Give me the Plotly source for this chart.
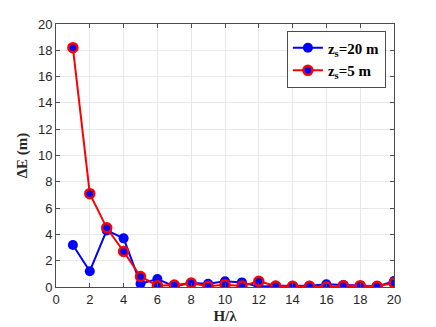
import plotly.graph_objects as go

h_lambda = list(range(1, 21))
de_zs20 = [3.2, 1.2, 4.3, 3.7, 0.25, 0.6, 0.05, 0.3, 0.25, 0.43,
           0.35, 0.02, 0.1, 0.1, 0.1, 0.2, 0.15, 0.1, 0.05, 0.45]
de_zs5 = [18.2, 7.1, 4.5, 2.7, 0.8, 0.1, 0.15, 0.3, 0.05, 0.18,
          0.08, 0.43, 0.08, 0.05, 0.05, 0.0, 0.1, 0.1, 0.05, 0.3]

serif = "Liberation Serif, Times New Roman, serif"
sans = "Liberation Sans, Arial, sans-serif"

fig = go.Figure()
fig.add_trace(go.Scatter(x=h_lambda, y=de_zs20, mode='lines+markers',
                         name='<b>z<sub>s</sub>=20 m</b>',
                         line={'width': 2, 'color': 'blue'},
                         marker={'size': 10, 'color': 'blue'}))
fig.add_trace(go.Scatter(x=h_lambda, y=de_zs5, mode='lines+markers',
                         name='<b>z<sub>s</sub>=5 m</b>',
                         line={'width': 2, 'color': 'red'},
                         marker={'size': 9, 'color': 'blue',
                                 'line': {'width': 2.5, 'color': 'red'}}))

axis_style = dict(showline=True, linecolor='#4d4d4d', linewidth=1, mirror='ticks',
                  ticks='inside', ticklen=4, tickcolor='#4d4d4d',
                  showgrid=True, gridcolor='#e8e8e8', zeroline=False,
                  automargin=False,
                  tickfont={'family': sans, 'size': 13, 'color': '#262626'})

fig.update_xaxes(range=[0, 20], dtick=2,
                 title={'text': '<b>H/λ</b>', 'standoff': 4,
                        'font': {'family': serif, 'size': 15, 'color': '#262626'}},
                 **axis_style)
fig.update_yaxes(range=[0, 20], dtick=2,
                 title={'text': '<b>ΔE (m)</b>', 'standoff': 6,
                        'font': {'family': serif, 'size': 15, 'color': '#262626'}},
                 **axis_style)

# page body adds an 8px offset, so the figure is shrunk to fit the window
fig.update_layout(width=428, height=319,
                  margin={'l': 48, 'r': 42, 't': 16, 'b': 40, 'autoexpand': False},
                  plot_bgcolor='white', paper_bgcolor='white',
                  showlegend=True,
                  legend={'x': 0.976, 'y': 0.975, 'xanchor': 'right', 'yanchor': 'top',
                          'bgcolor': 'white', 'bordercolor': '#4d4d4d', 'borderwidth': 1,
                          'font': {'family': serif, 'size': 15, 'color': 'black'},
                          'itemwidth': 30, 'tracegroupgap': 0})

fig.write_html("out.html")
